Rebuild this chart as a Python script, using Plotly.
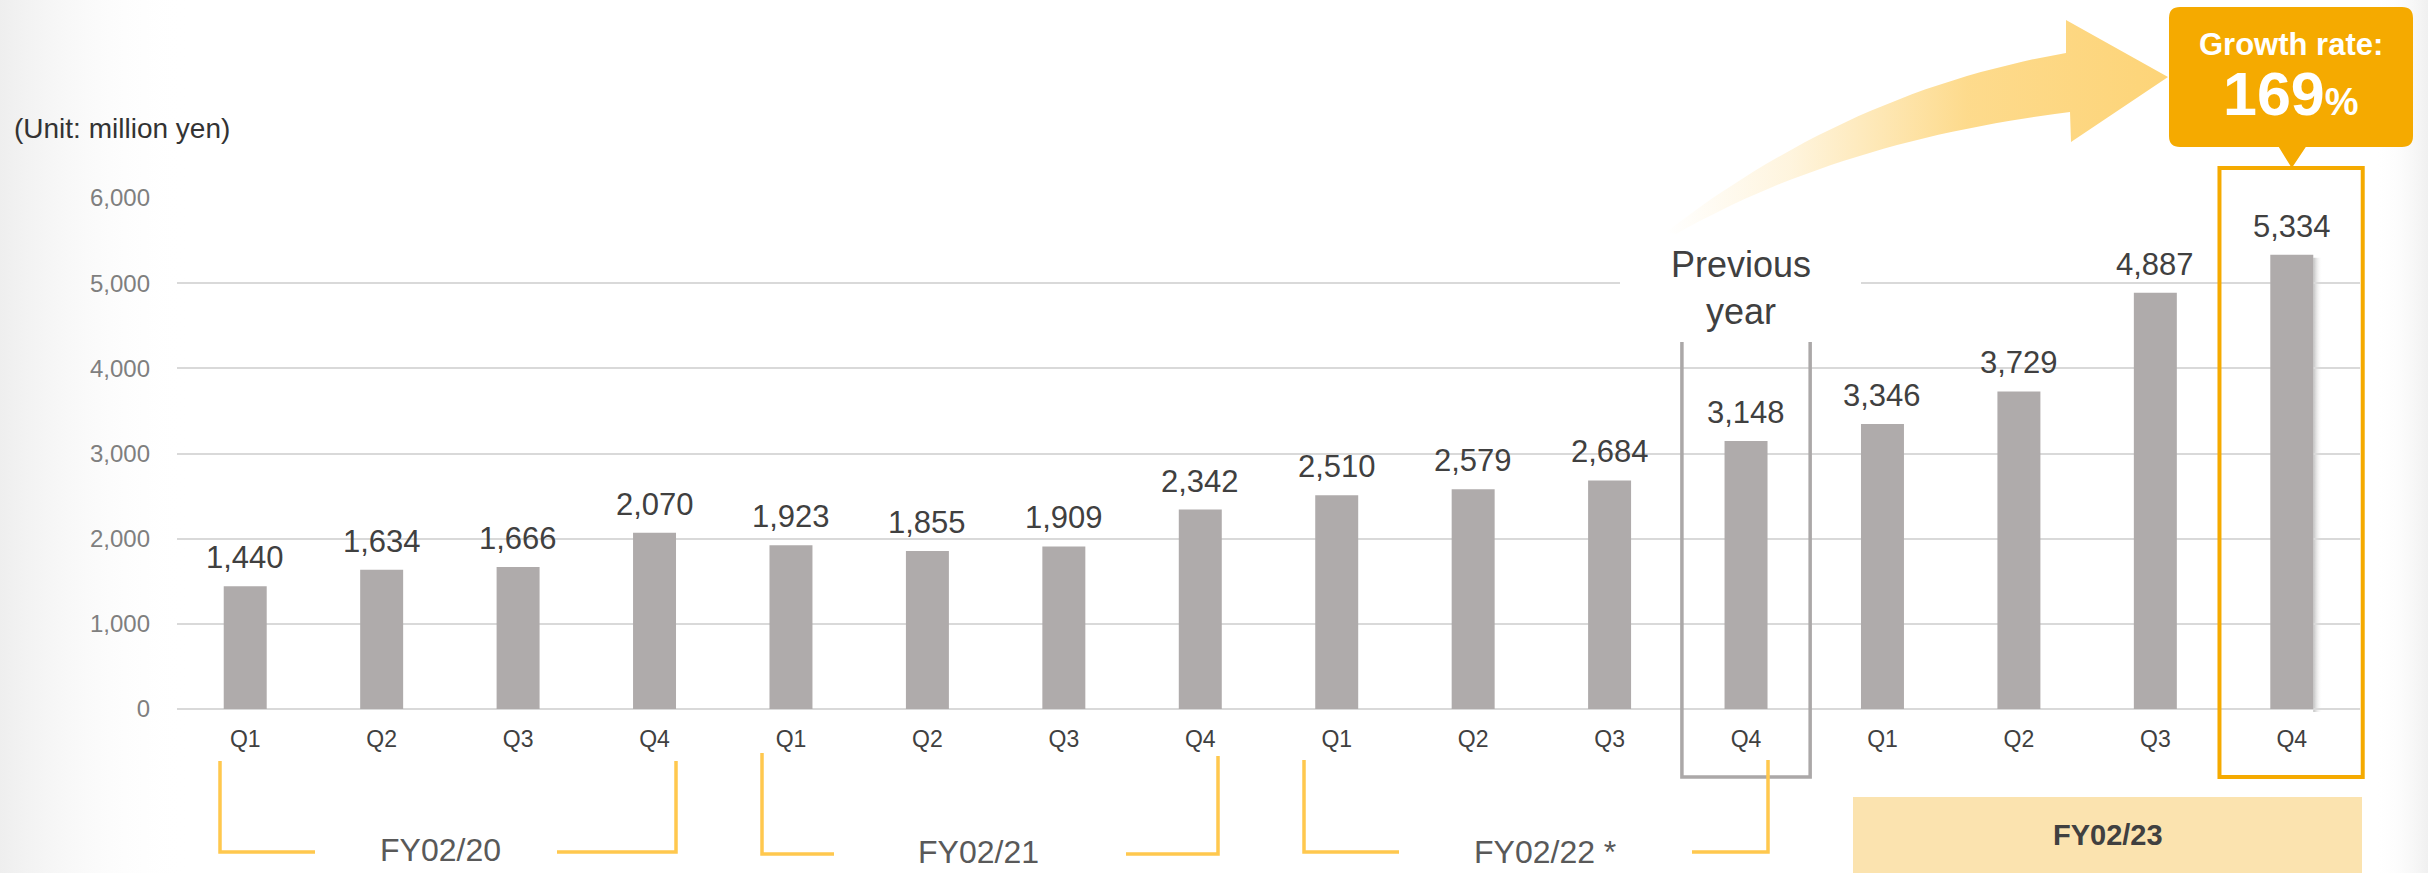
import plotly.graph_objects as go

# ---------------- data ----------------
quarters = ["Q1", "Q2", "Q3", "Q4", "Q1", "Q2", "Q3", "Q4",
            "Q1", "Q2", "Q3", "Q4", "Q1", "Q2", "Q3", "Q4"]
sales = [1440, 1634, 1666, 2070, 1923, 1855, 1909, 2342,
         2510, 2579, 2684, 3148, 3346, 3729, 4887, 5334]
y_ticks = [0, 1000, 2000, 3000, 4000, 5000, 6000]
fiscal_years = ["FY02/20", "FY02/21", "FY02/22 *", "FY02/23"]
unit_label = "(Unit: million yen)"
prev_label = "Previous<br>year"
growth_title = "Growth rate:"
growth_value = "169"

# ---------------- geometry (pixels) ----------------
W, H = 2428, 873
PL, PR, PT, PB = 177, 2360, 198, 709
N = len(sales)
STEP = (PR - PL) / N
BAR_W = 0.315
YMAX = 6000


def cx(i):
    return PL + (i + 0.5) * STEP


def cy(v):
    return PB - v / YMAX * (PB - PT)


BAR_COLOR = "#AFABAB"
ORANGE = "#F5AA00"
BRACKET = "#FFC84E"
TXT = "#404040"
FONT = "Liberation Sans, Arial, sans-serif"

fig = go.Figure()

# ---------- decoration layer (pixel coordinate subplot xy, drawn first) ----------
fig.add_trace(go.Scatter(
    x=[0, 190, 190, 0, 0], y=[0, 0, H, H, 0], mode="lines", fill="toself",
    line=dict(width=0), hoverinfo="skip", showlegend=False,
    fillgradient=dict(type="horizontal",
                      colorscale=[[0, "rgba(238,238,238,1)"], [1, "rgba(255,255,255,0)"]]),
    xaxis="x", yaxis="y"))
fig.add_trace(go.Scatter(
    x=[2375, W, W, 2375, 2375], y=[0, 0, H, H, 0], mode="lines", fill="toself",
    line=dict(width=0), hoverinfo="skip", showlegend=False,
    fillgradient=dict(type="horizontal",
                      colorscale=[[0, "rgba(255,255,255,0)"], [1, "rgba(240,240,240,1)"]]),
    xaxis="x", yaxis="y"))


def qbez(p0, c, p2, n=30):
    pts = []
    for k in range(n + 1):
        t = k / n
        x = (1 - t) ** 2 * p0[0] + 2 * (1 - t) * t * c[0] + t ** 2 * p2[0]
        y = (1 - t) ** 2 * p0[1] + 2 * (1 - t) * t * c[1] + t ** 2 * p2[1]
        pts.append((x, y))
    return pts


upper = qbez((1666, 232), (1850, 90), (2066, 53))
lower = qbez((2070, 112), (1841, 140), (1676, 234))
arrow = upper + [(2066, 20), (2168, 77), (2071, 142)] + lower + [upper[0]]
fig.add_trace(go.Scatter(
    x=[p[0] for p in arrow], y=[p[1] for p in arrow], mode="lines", fill="toself",
    line=dict(width=0), hoverinfo="skip", showlegend=False,
    fillgradient=dict(type="horizontal", start=1666, stop=2168,
                      colorscale=[[0, "rgba(253,212,120,0)"], [0.25, "rgba(253,212,120,0.25)"],
                                  [0.6, "rgba(253,212,120,0.85)"], [1, "rgba(253,212,120,1)"]]),
    xaxis="x", yaxis="y"))

bx = cx(N - 1) + BAR_W * STEP / 2
fig.add_trace(go.Scatter(
    x=[bx, bx + 9, bx + 9, bx, bx], y=[cy(sales[-1]) + 3] * 2 + [PB + 3] * 2 + [cy(sales[-1]) + 3],
    mode="lines", fill="toself", line=dict(width=0), hoverinfo="skip", showlegend=False,
    fillgradient=dict(type="horizontal",
                      colorscale=[[0, "rgba(140,140,140,0.55)"], [1, "rgba(255,255,255,0)"]]),
    xaxis="x", yaxis="y"))

# ---------- data layer ----------
fig.add_trace(go.Bar(
    x=list(range(N)), y=sales, width=BAR_W, marker=dict(color=BAR_COLOR, line=dict(width=0)),
    xaxis="x2", yaxis="y2", hoverinfo="skip", showlegend=False))

annotations = []
for i, v in enumerate(sales):
    annotations.append(dict(
        x=i, y=v, xref="x2", yref="y2", text=f"{v:,}", showarrow=False,
        yanchor="bottom", yshift=9, font=dict(size=31, color=TXT, family=FONT)))

shapes = []
shapes.append(dict(type="rect", xref="x", yref="y", x0=1620, x1=1861, y0=236, y1=334,
                   fillcolor="white", line=dict(width=0), layer="above"))
gx0 = cx(11) - 0.47 * STEP
gx1 = cx(11) + 0.47 * STEP
shapes.append(dict(type="path", xref="x", yref="y",
                   path=f"M {gx0},342 L {gx0},777 L {gx1},777 L {gx1},342",
                   line=dict(color="#ABA8A8", width=3.5), layer="above"))
ox0 = cx(15) - 0.53 * STEP
ox1 = cx(15) + 0.52 * STEP
shapes.append(dict(type="rect", xref="x", yref="y", x0=ox0, x1=ox1, y0=168, y1=777,
                   line=dict(color=ORANGE, width=4), fillcolor="rgba(0,0,0,0)", layer="above"))
x0, x1, y0, y1, r = 2169, 2413, 7, 147, 11
tip = cx(15)
callout = (f"M {x0 + r},{y0} L {x1 - r},{y0} Q {x1},{y0} {x1},{y0 + r} L {x1},{y1 - r} "
           f"Q {x1},{y1} {x1 - r},{y1} L {tip + 14},{y1} L {tip},{168} L {tip - 13},{y1} "
           f"L {x0 + r},{y1} Q {x0},{y1} {x0},{y1 - r} L {x0},{y0 + r} Q {x0},{y0} {x0 + r},{y0} Z")
shapes.append(dict(type="path", xref="x", yref="y", path=callout,
                   fillcolor=ORANGE, line=dict(width=0), layer="above"))
shapes.append(dict(type="rect", xref="x", yref="y", x0=1853, x1=2362, y0=797, y1=H + 2,
                   fillcolor="#FBE3AF", line=dict(width=0), layer="above"))

brackets = [
    ((220, 761, 852), (315,), (557,), (676, 761, 852)),
    ((762, 753, 854), (834,), (1126,), (1218, 756, 854)),
    ((1304, 760, 852), (1399,), (1692,), (1768, 760, 852)),
]
for left, lend, rstart, right in brackets:
    lx, ly0, ly1 = left
    rx, ry0, ry1 = right
    shapes.append(dict(type="path", xref="x", yref="y",
                       path=f"M {lx},{ly0} L {lx},{ly1} L {lend[0]},{ly1}",
                       line=dict(color=BRACKET, width=3.5), layer="above"))
    shapes.append(dict(type="path", xref="x", yref="y",
                       path=f"M {rstart[0]},{ry1} L {rx},{ry1} L {rx},{ry0}",
                       line=dict(color=BRACKET, width=3.5), layer="above"))

fy_pos = [(440, 850), (978, 852), (1545, 852)]
for (tx, ty), lab in zip(fy_pos, fiscal_years[:3]):
    annotations.append(dict(x=tx, y=ty, xref="x", yref="y", text=lab, showarrow=False,
                            font=dict(size=32, color="#595959", family=FONT)))
annotations.append(dict(x=2108, y=835, xref="x", yref="y", text=f"<b>{fiscal_years[3]}</b>",
                        showarrow=False, font=dict(size=29, color=TXT, family=FONT)))
annotations.append(dict(x=12, y=128, xref="x", yref="y", text=unit_label, showarrow=False,
                        xanchor="left", font=dict(size=28, color="#333333", family=FONT)))
annotations.append(dict(x=1741, y=288, xref="x", yref="y", text=prev_label, showarrow=False,
                        font=dict(size=36, color=TXT, family=FONT)))
annotations.append(dict(x=2291, y=44, xref="x", yref="y", text=f"<b>{growth_title}</b>",
                        showarrow=False, font=dict(size=31, color="white", family=FONT)))
annotations.append(dict(x=2291, y=94, xref="x", yref="y",
                        text=f"<b>{growth_value}<span style='font-size:38px'>%</span></b>",
                        showarrow=False, font=dict(size=61, color="white", family=FONT)))

fig.update_layout(
    width=W, height=H, margin=dict(l=0, r=0, t=0, b=0, pad=0),
    paper_bgcolor="white", plot_bgcolor="rgba(0,0,0,0)",
    template="none", showlegend=False, font=dict(family=FONT),
    xaxis=dict(domain=[0, 1], range=[0, W], visible=False, fixedrange=True),
    yaxis=dict(domain=[0, 1], range=[H, 0], visible=False, fixedrange=True),
    xaxis2=dict(domain=[PL / W, PR / W], range=[-0.5, N - 0.5], anchor="y2",
                tickvals=list(range(N)), ticktext=quarters, showgrid=False, zeroline=False,
                showline=False, ticks="", ticklabelstandoff=14,
                tickfont=dict(size=23, color=TXT, family=FONT), automargin=False),
    yaxis2=dict(domain=[(H - PB) / H, (H - PT) / H], range=[0, YMAX], anchor="x2",
                tickvals=y_ticks, tickformat=",", showgrid=True, gridcolor="#D9D9D9",
                gridwidth=2, zeroline=True, zerolinecolor="#D9D9D9", zerolinewidth=2,
                showline=False, ticks="", ticklabelstandoff=26,
                tickfont=dict(size=24, color="#7F7F7F", family=FONT), automargin=False),
    shapes=shapes, annotations=annotations,
)

fig.write_html("out.html")
